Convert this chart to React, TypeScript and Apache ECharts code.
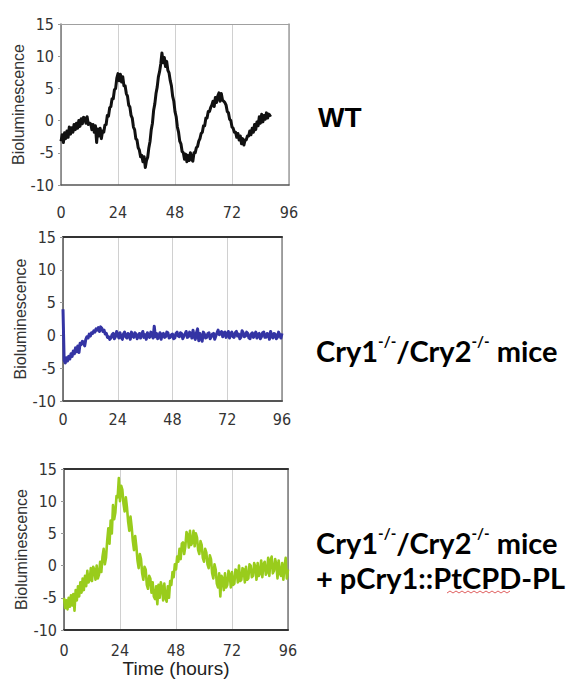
import React, { useEffect, useRef } from "react";
import * as echarts from "echarts";

// Sampling step of the recordings (hours)
const STEP = 0.5;
const X_TICKS = [0, 24, 48, 72, 96];
const Y_TICKS = [-10, -5, 0, 5, 10, 15];

// WT bioluminescence (0 .. 88.5 h, every 0.5 h)
const wt = [
  -3.2, -2.2, -3.4, -1.9, -2.8, -1.6, -2.6, -1.0, -2.1, -1.1,
  -1.8, -0.6, -1.4, -0.4, -1.2, 0.0, -0.9, 0.3, -0.5, 0.5,
  0.4, -0.4, 0.6, -0.6, -0.4, -0.5, -1.4, -0.6, -1.8, -0.8,
  -3.4, -1.3, -2.4, -1.2, -2.8, -1.6, -1.8, -0.7, -0.6, 0.8,
  0.7, 2.0, 2.2, 3.4, 3.4, 4.8, 5.0, 6.6, 7.3, 6.2,
  7.2, 6.0, 6.8, 5.4, 5.4, 4.2, 3.8, 2.4, 2.1, 0.8,
  0.4, -1.0, -1.4, -2.8, -3.0, -4.2, -4.6, -5.6, -5.4, -6.4,
  -5.6, -7.3, -6.2, -5.7, -4.2, -3.2, -1.4, -0.4, 1.6, 2.6,
  4.2, 5.2, 6.8, 7.6, 8.8, 10.5, 9.0, 9.8, 8.4, 9.2,
  7.8, 7.4, 6.2, 5.4, 3.8, 3.0, 1.4, 0.6, -1.0, -1.8,
  -3.2, -3.6, -4.8, -5.0, -6.0, -5.2, -6.4, -5.4, -6.2, -5.0,
  -6.0, -6.3, -5.0, -5.0, -4.2, -4.0, -3.2, -2.8, -2.0, -1.8,
  -0.8, -0.8, 0.4, 0.4, 1.4, 1.4, 2.0, 2.4, 3.0, 2.2,
  3.6, 2.8, 3.8, 4.3, 3.0, 4.2, 3.2, 3.0, 2.8, 2.4,
  1.4, 1.2, 0.2, 0.0, -1.0, -1.2, -1.8, -1.8, -2.6, -2.0,
  -3.0, -2.4, -3.6, -2.8, -3.8, -3.0, -3.0, -2.4, -2.4, -1.6,
  -2.2, -1.2, -1.8, -0.6, -1.4, -0.2, -0.8, 0.6, -0.4, 1.0,
  -0.2, 0.8, 0.2, 1.2, 0.4, 1.0, 0.8, 0.9,
];

// Cry1-/-/Cry2-/- (0 .. 96 h, every 0.5 h)
const dko = [
  4.0, -3.8, -4.2, -3.4, -3.9, -3.2, -3.6, -2.8, -3.2, -2.4,
  -2.8, -1.9, -2.5, -1.6, -2.6, -1.2, -1.4, -0.9, -1.0, -1.6,
  -0.6, -0.2, -0.4, 0.2, -0.1, 0.4, 0.3, 0.7, 0.5, 1.0,
  0.8, 1.2, 0.6, 1.3, 1.1, 0.6, 0.8, 0.2, 0.3, -0.3,
  -0.2, -0.6, -0.4, 0.1, 0.3, -0.5, -0.2, 0.6, 0.1, -0.4,
  0.4, -0.3, -0.6, 0.2, 0.5, -0.2, -0.4, 0.3, 0.1, -0.6,
  0.5, -0.1, -0.3, 0.4, 0.2, -0.5, -0.1, 0.3, -0.4, 0.2,
  0.6, -0.3, 0.1, -0.6, 0.4, -0.2, -0.3, 0.5, 0.2, -0.4,
  1.4, -0.2, 0.3, -0.5, -0.1, 0.4, -0.6, 0.2, 0.3, -0.3,
  -0.2, 0.5, 0.4, -0.4, -0.3, 0.1, 0.2, -0.5, -0.4, 0.3,
  0.5, -0.1, -0.2, 0.4, 0.3, -0.5, -0.1, 0.2, 0.6, -0.3,
  -0.2, 0.5, 0.3, -0.4, 0.8, -0.2, -0.6, 0.4, 1.0, -0.8,
  0.3, -0.3, -0.9, 0.5, 0.2, -0.4, -0.3, 0.3, 0.4, -0.5,
  -0.2, 0.2, 0.3, -0.6, -0.1, 0.4, 0.8, 0.1, 0.3, 0.6,
  -0.2, 0.4, 0.5, -0.3, 0.1, 0.6, -0.4, 0.2, 0.5, -0.2,
  -0.3, 0.4, 0.6, -0.1, 0.2, -0.5, -0.3, 0.7, 0.4, -0.2,
  -0.1, 0.5, 0.3, -0.4, -0.5, 0.2, 0.4, -0.3, 0.1, 0.5,
  -0.4, 0.2, 0.3, -0.5, -0.2, 0.4, 0.5, -0.3, -0.3, 0.3,
  0.2, -0.6, 0.6, -0.1, -0.4, 0.3, 0.2, -0.5, -0.3, 0.5,
  0.1, -0.4, 0.3,
];

// Cry1-/-/Cry2-/- + pCry1::PtCPD-PL (0 .. 96 h, every 0.5 h)
const rescue = [
  -5.0, -6.6, -5.4, -6.8, -5.0, -6.4, -4.6, -6.2, -4.4, -7.0,
  -3.8, -5.4, -3.2, -4.8, -2.6, -4.2, -2.0, -3.8, -1.6, -3.2,
  -0.8, -2.6, -2.2, -0.4, -2.4, -0.2, -0.6, -2.2, 0.0, -2.0,
  -1.4, 0.6, -1.0, 1.4, 2.6, 0.2, 1.2, 3.8, 5.8, 3.4,
  7.0, 5.0, 9.4, 7.2, 8.2, 10.8, 10.6, 13.6, 10.0, 12.4,
  11.8, 9.6, 8.4, 10.6, 9.0, 6.8, 5.4, 7.6, 6.0, 3.8,
  2.4, 4.6, 3.0, 0.8, -0.4, 1.8, 1.0, -1.2, -2.2, -0.2,
  -0.6, -3.0, -3.6, -1.6, -2.0, -4.2, -2.6, -4.8, -5.2, -3.2,
  -6.0, -3.0, -5.0, -2.6, -3.4, -5.4, -2.8, -5.0, -5.6, -3.2,
  -5.0, -2.4, -3.0, -1.0, -1.8, 0.2, -0.6, 1.4, 0.6, 2.6,
  1.0, 3.4, 3.6, 1.8, 3.0, 5.2, 4.8, 2.8, 5.4, 3.2,
  3.6, 5.4, 3.0, 5.0, 4.4, 2.4, 1.8, 3.8, 3.2, 1.2,
  0.6, 2.6, 2.0, 0.2, -0.4, 1.6, 1.0, -1.2, -2.0, 0.2,
  -0.6, -2.8, -3.4, -1.2, -4.8, -1.6, -2.0, -3.8, -1.2, -3.4,
  -3.0, -0.8, -1.4, -3.4, -1.0, -3.0, -2.8, -0.6, -0.8, -2.6,
  0.0, -2.4, -2.2, -0.4, -0.6, -2.6, -0.2, -2.2, -2.0, 0.2,
  0.0, -1.8, -1.6, 0.4, -0.2, -2.2, 0.4, -1.6, -1.2, 0.8,
  -1.8, 0.2, 0.6, -1.4, -1.0, 1.2, -1.6, 0.8, 1.4, -1.2,
  -0.8, 1.0, 0.2, -2.0, 0.8, -1.2, -1.6, 0.4, -2.2, -0.2,
  1.2, -2.0, -0.6,
];

const TICK_FONT = "'Liberation Sans Narrow', 'DejaVu Sans Condensed', 'Liberation Sans', Arial, sans-serif";
const ARIAL = "'Liberation Sans', Arial, sans-serif";
const LABEL_FONT = "Lato, 'Noto Sans', sans-serif";

const toPoints = (arr: number[]) => arr.map((v, i) => [i * STEP, v]);

type Panel = {
  grid: { left: number; top: number; width: number; height: number };
  data: number[];
  color: string;
  lineWidth: number;
  border: { top: string; right: string; bottom: string; left: string };
  labelMargin: number;
  nameGap: number;
  xName?: string;
};

const panels: Panel[] = [
  {
    grid: { left: 61, top: 24, width: 228, height: 161 },
    data: wt,
    color: "#111111",
    lineWidth: 3,
    border: { top: "#a0a0a0", right: "#a0a0a0", bottom: "#555555", left: "#777777" },
    labelMargin: 19,
    nameGap: 36,
  },
  {
    grid: { left: 63, top: 237, width: 219, height: 164 },
    data: dko,
    color: "#3434a4",
    lineWidth: 3,
    border: { top: "#333333", right: "#888888", bottom: "#555555", left: "#555555" },
    labelMargin: 10,
    nameGap: 35,
  },
  {
    grid: { left: 64, top: 469, width: 224, height: 161 },
    data: rescue,
    color: "#99cc1c",
    lineWidth: 2.6,
    border: { top: "#333333", right: "#777777", bottom: "#333333", left: "#555555" },
    labelMargin: 12,
    nameGap: 39,
    xName: "Time (hours)",
  },
];

export default function App() {
  const ref = useRef<HTMLDivElement>(null);

  useEffect(() => {
    if (!ref.current) return;
    const chart = echarts.init(ref.current, null, { renderer: "svg" });

    const grids: any[] = [];
    const xAxes: any[] = [];
    const yAxes: any[] = [];
    const series: any[] = [];

    panels.forEach((p, i) => {
      grids.push({ ...p.grid, show: false, containLabel: false });
      xAxes.push({
        type: "value",
        gridIndex: i,
        position: "bottom",
        min: X_TICKS[0],
        max: X_TICKS[X_TICKS.length - 1],
        interval: X_TICKS[1] - X_TICKS[0],
        axisLine: { show: true, onZero: false, lineStyle: { color: p.border.bottom, width: i === 0 ? 1.5 : 2 } },
        axisTick: { show: false },
        axisLabel: {
          color: "#333",
          fontFamily: TICK_FONT,
          fontSize: 16,
          margin: p.labelMargin,
        },
        splitLine: { show: true, lineStyle: { color: "#d0d0d0", width: 1 } },
        name: p.xName || "",
        nameLocation: "middle",
        nameGap: 27,
        nameTextStyle: { color: "#222", fontFamily: ARIAL, fontSize: 19 },
      });
      xAxes.push({
        type: "value",
        gridIndex: i,
        position: "top",
        min: X_TICKS[0],
        max: X_TICKS[X_TICKS.length - 1],
        interval: X_TICKS[1] - X_TICKS[0],
        axisLine: { show: true, onZero: false, lineStyle: { color: p.border.top, width: i === 0 ? 1.2 : 2 } },
        axisTick: { show: false },
        axisLabel: { show: false },
        splitLine: { show: false },
      });
      yAxes.push({
        type: "value",
        gridIndex: i,
        position: "left",
        min: Y_TICKS[0],
        max: Y_TICKS[Y_TICKS.length - 1],
        interval: Y_TICKS[1] - Y_TICKS[0],
        axisLine: { show: true, onZero: false, lineStyle: { color: p.border.left, width: 1.5 } },
        axisTick: { show: true, length: 3, lineStyle: { color: "#999" } },
        axisLabel: { color: "#333", fontFamily: TICK_FONT, fontSize: 16, margin: 7 },
        splitLine: { show: false },
        name: "Bioluminescence",
        nameLocation: "middle",
        nameGap: p.nameGap,
        nameRotate: 90,
        nameTextStyle: { color: "#333", fontFamily: ARIAL, fontSize: 16, verticalAlign: "middle" },
      });
      yAxes.push({
        type: "value",
        gridIndex: i,
        position: "right",
        min: Y_TICKS[0],
        max: Y_TICKS[Y_TICKS.length - 1],
        interval: Y_TICKS[1] - Y_TICKS[0],
        axisLine: { show: true, onZero: false, lineStyle: { color: p.border.right, width: 1.5 } },
        axisTick: { show: false },
        axisLabel: { show: false },
        splitLine: { show: false },
      });
      series.push({
        type: "line",
        xAxisIndex: i * 2,
        yAxisIndex: i * 2,
        data: toPoints(p.data),
        showSymbol: false,
        symbol: "none",
        lineStyle: { color: p.color, width: p.lineWidth, join: "round" },
        silent: true,
      });
    });

    const rich = {
      m: { fontSize: 29, fontFamily: LABEL_FONT, fontWeight: "bold", fill: "#000", lineHeight: 33 },
      s: { fontSize: 15, fontFamily: LABEL_FONT, fontWeight: "bold", fill: "#000", verticalAlign: "top", lineHeight: 18 },
    };
    const cryText = "{m|Cry1}{s|-/-}{m|/Cry2}{s|-/-}{m| mice}";

    chart.setOption({
      animation: false,
      backgroundColor: "#ffffff",
      grid: grids,
      xAxis: xAxes,
      yAxis: yAxes,
      series,
      graphic: [
        {
          type: "text",
          x: 318,
          y: 117,
          style: {
            text: "WT",
            fill: "#000",
            font: `bold 28px ${ARIAL}`,
            align: "left",
            verticalAlign: "middle",
          },
        },
        {
          type: "text",
          x: 316,
          y: 350,
          style: { text: cryText, rich, align: "left", verticalAlign: "middle" },
        },
        {
          type: "text",
          x: 316,
          y: 542,
          style: { text: cryText, rich, align: "left", verticalAlign: "middle" },
        },
        {
          type: "text",
          x: 316,
          y: 577,
          style: { text: "{m|+ pCry1::PtCPD-PL}", rich, align: "left", verticalAlign: "middle" },
        },
        {
          type: "polyline",
          shape: {
            points: [
              [447, 593], [450, 591], [453, 593], [456, 591], [459, 593], [462, 591], [465, 593],
              [468, 591], [471, 593], [474, 591], [477, 593], [480, 591], [483, 593], [486, 591],
              [489, 593], [492, 591], [495, 593], [498, 591], [501, 593], [504, 591], [507, 593],
              [510, 591],
            ],
          },
          style: { stroke: "#e06060", lineWidth: 1, fill: "none" },
        },
      ],
    });

    return () => chart.dispose();
  }, []);

  return (
    <div
      ref={ref}
      style={{ position: "absolute", left: 0, top: 0, width: 569, height: 686, background: "#fff" }}
    />
  );
}
